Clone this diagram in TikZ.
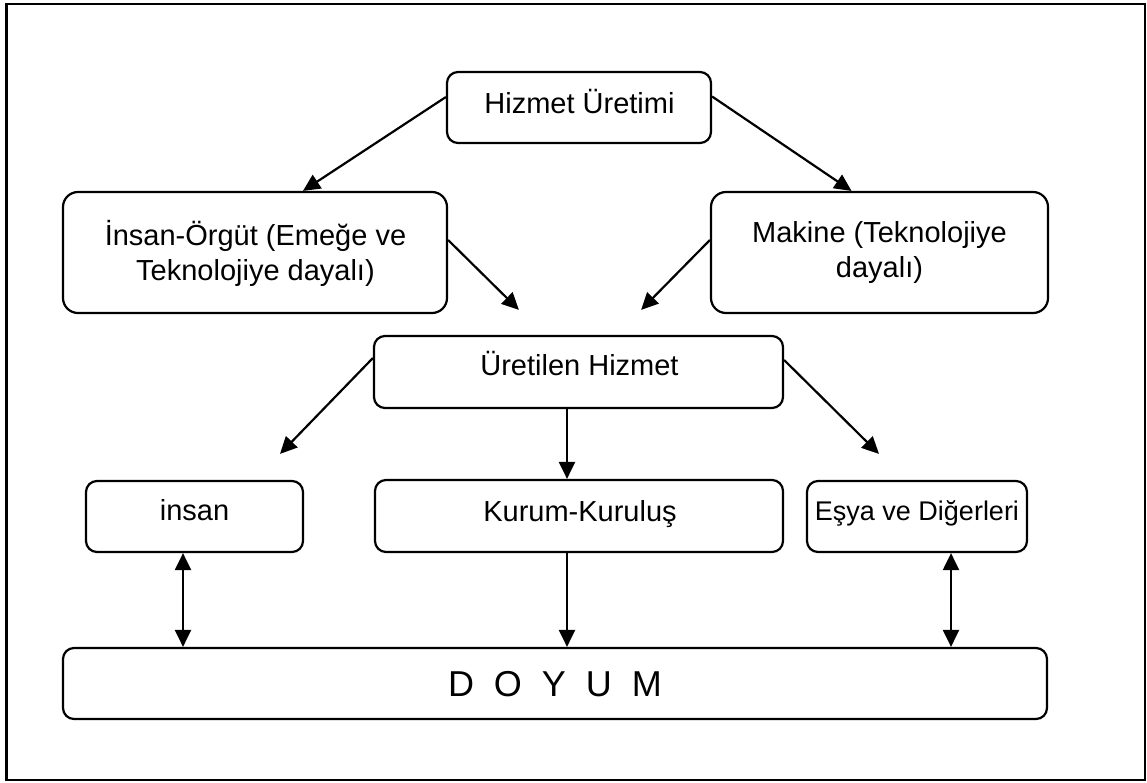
\documentclass[tikz,border=0pt]{standalone}
\usepackage{fontspec}
\setmainfont{Liberation Sans}
\usetikzlibrary{arrows.meta,calc}

\tikzset{
  box/.style={draw=black, line width=2.2pt, rounded corners=11pt, inner sep=0pt, fill=white},
  bigbox/.style={box, rounded corners=15pt},
  txt/.style={anchor=base, inner sep=0pt, font=\fontsize{29pt}{35pt}\selectfont},
  bigtxt/.style={anchor=base, inner sep=0pt, font=\fontsize{36pt}{42pt}\selectfont},
  tip/.tip={Triangle[length=17pt,width=16pt]},
  arr/.style={line width=2.2pt, -tip},
  darr/.style={line width=2.2pt, tip-tip},
  frame/.style={draw=black, line width=2.6pt}
}

\begin{document}
\begin{tikzpicture}[x=1pt, y=-1pt]
  \useasboundingbox (0,0) rectangle (1147,782);
  \draw[frame] (6.3,4) rectangle (1145,780);

  % boxes
  \node[box, minimum width=264pt, minimum height=71pt] (hu) at (579,107.5) {};
  \node[bigbox, minimum width=384pt, minimum height=121pt] (io) at (255,252.5) {};
  \node[bigbox, minimum width=337pt, minimum height=121pt] (mk) at (879.5,252.5) {};
  \node[box, minimum width=409pt, minimum height=72pt] (uh) at (578.5,372) {};
  \node[box, minimum width=217pt, minimum height=71pt] (in) at (194.5,516.5) {};
  \node[box, minimum width=408pt, minimum height=72pt] (ku) at (579,516) {};
  \node[box, minimum width=220pt, minimum height=71pt] (es) at (917,516.5) {};
  \node[box, minimum width=984pt, minimum height=71pt] (dy) at (555,683.5) {};

  % texts
  \node[txt] (hu-t) at (579.5,113) {Hizmet Üretimi};
  \node[txt] (io-t1) at (255.5,245) {İnsan-Örgüt (Emeğe ve};
  \node[txt] (io-t2) at (255.5,280) {Teknolojiye dayalı)};
  \node[txt] (mk-t1) at (879.5,242) {Makine (Teknolojiye};
  \node[txt] (mk-t2) at (879.5,277) {dayalı)};
  \node[txt] (uh-t) at (579.5,375) {Üretilen Hizmet};
  \node[txt] (in-t) at (194.5,520) {insan};
  \node[txt] (ku-t) at (580,521) {Kurum-Kuruluş};
  \node[txt, font=\fontsize{27pt}{33pt}\selectfont] (es-t) at (917,520) {Eşya ve Diğerleri};
  \node[bigtxt] (dy-t) at (555,696) {D\ \ O\ \ Y\ \ U\ \ M};

  % free ends and vertical guides
  \coordinate (e1) at ($(uh.north west)+(146,-25)$);
  \coordinate (e2) at ($(uh.north east)+(-143,-25)$);
  \coordinate (e3) at ($(in.north)+(85.5,-26)$);
  \coordinate (e4) at ($(es.north)+(-38,-26)$);
  \coordinate (lx) at (183,0);
  \coordinate (cx) at (567,0);
  \coordinate (rx) at (951,0);

  % connectors
  \draw[arr] ($(hu.west)+(0,-10.5)$) -- ($(io.north)+(48,0)$);
  \draw[arr] ($(hu.east)+(0,-11)$) -- ($(mk.north)+(-28,0)$);
  \draw[arr] ($(io.east)+(0,-12.5)$) -- (e1);
  \draw[arr] ($(mk.west)+(0,-12.5)$) -- (e2);
  \draw[arr] ($(uh.west)+(0,-14)$) -- (e3);
  \draw[arr] ($(uh.east)+(0,-12)$) -- (e4);
  \draw[arr] (uh.south -| cx) -- (ku.north -| cx);
  \draw[darr] (in.south -| lx) -- (dy.north -| lx);
  \draw[arr] (ku.south -| cx) -- (dy.north -| cx);
  \draw[darr] (es.south -| rx) -- (dy.north -| rx);
\end{tikzpicture}
\end{document}
